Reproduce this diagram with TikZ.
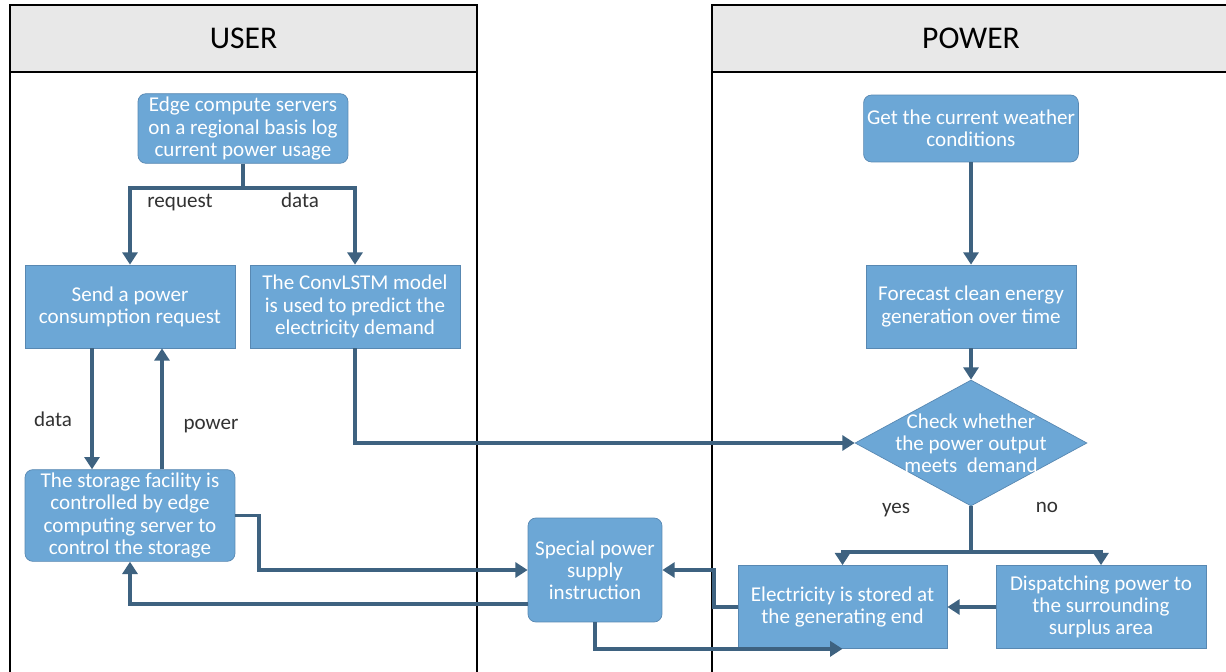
\documentclass[tikz,border=0pt]{standalone}
\usepackage{fontspec}
\setmainfont{Carlito}
\usepackage{tikz}
\usetikzlibrary{arrows.meta, positioning, shapes.geometric}

\definecolor{boxfill}{RGB}{108,167,214}
\definecolor{boxline}{RGB}{88,136,178}
\definecolor{arrcol}{RGB}{62,98,128}
\definecolor{hdrfill}{RGB}{232,232,232}
\definecolor{lblcol}{RGB}{50,50,50}

\begin{document}
\begin{tikzpicture}[x=0.02cm,y=-0.02cm,
    box/.style={rectangle,draw=boxline,fill=boxfill,text=white,align=center,minimum width=4.2cm,minimum height=1.66cm,inner sep=2pt,font=\fontsize{12}{12.6}\selectfont},
    rbox/.style={box,rounded corners=4.5pt},
    decision/.style={diamond,draw=boxline,fill=boxfill,minimum width=4.64cm,minimum height=2.52cm,inner sep=0pt},
    lbl/.style={text=lblcol,font=\fontsize{12}{12.6}\selectfont,inner sep=1pt,text height=1.6ex,text depth=0.5ex},
    lane/.style={draw=black,line width=1.1pt},
    hdr/.style={font=\fontsize{18}{20}\selectfont},
    arr/.style={draw=arrcol,line width=2.1pt,-{Triangle[length=7pt,width=8.5pt]}},
    seg/.style={draw=arrcol,line width=2.1pt}]
    \clip (0,0) rectangle (1226,672);
    % 泳道
    \draw[lane] (10,5) rectangle (477,700);
    \draw[lane,fill=hdrfill] (10,5) rectangle (477,72);
    \draw[lane] (712,5) rectangle (1240,700);
    \draw[lane,fill=hdrfill] (712,5) rectangle (1240,72);
    \node[hdr] (user) at (243.5,38.5) {USER};
    \node[hdr] (power) at (971,38.5) {POWER};
    % USER 一侧
    \node[rbox,minimum height=1.34cm] (n1) at (243,128.5) {Edge compute servers\\on a regional basis log\\current power usage};
    \node[box] (n2) at (130,306.5) {Send a power\\consumption request};
    \node[box] (n3) at (355,306.5) {The ConvLSTM model\\is used to predict the\\electricity demand};
    \node[rbox,minimum height=1.82cm] (n4) at (130,515.5) {The storage facility is\\controlled by edge\\computing server to\\control the storage};
    \node[rbox,minimum width=2.68cm,minimum height=2.08cm] (n5) at (595,570) {Special power\\supply\\instruction};
    % POWER 一侧
    \node[rbox,minimum height=1.34cm] (p1) at (971,128.5) {Get the current weather\\conditions};
    \node[box] (p2) at (971,306.5) {Forecast clean energy\\generation over time};
    \node[decision,label={[text=white,align=center,font=\fontsize{12}{12.6}\selectfont]center:Check whether\\the power output\\meets~~demand}] (d) at (971,443) {};
    \node[box,minimum width=4.18cm] (p3) at (842.5,607) {Electricity is stored at\\the generating end};
    \node[box] (p4) at (1101,607) {Dispatching power to\\the surrounding\\surplus area};
    % 分叉点
    \coordinate (s1) at (243,188);
    \coordinate (s2) at (971,552);
    % 连线
    \draw[seg] (n1.south) -- (s1);
    \draw[arr] (s1) -| (n2.north);
    \draw[arr] (s1) -| (n3.north);
    \draw[arr] ([xshift=-0.76cm]n2.south) -- ([xshift=-0.76cm]n4.north);
    \draw[arr] ([xshift=0.64cm]n4.north) -- ([xshift=0.64cm]n2.south);
    \draw[arr] (n3.south) |- (d.west);
    \draw[arr] (p1.south) -- (p2.north);
    \draw[arr] (p2.south) -- (d.north);
    \draw[seg] (d.south) -- (s2);
    \draw[arr] (s2) -| (p3.north);
    \draw[arr] (s2) -| (p4.north);
    \draw[arr] (p4.west) -- (p3.east);
    \draw[arr] (p3.west) -- ++(-24,0) |- (n5.east);
    \draw[arr] (n5.south) |- (p3.south);
    \draw[arr] (n4.east) -- ++(24,0) |- (n5.west);
    \draw[arr] ([yshift=-0.68cm]n5.west) -| (n4.south);
    % 标注
    \node[lbl] (lreq) at (180,203) {request};
    \node[lbl] (ldata1) at (300,203) {data};
    \node[lbl] (ldata2) at (53,422) {data};
    \node[lbl] (lpow) at (211,425) {power};
    \node[lbl] (lyes) at (896,509) {yes};
    \node[lbl] (lno) at (1047,508) {no};
\end{tikzpicture}
\end{document}
